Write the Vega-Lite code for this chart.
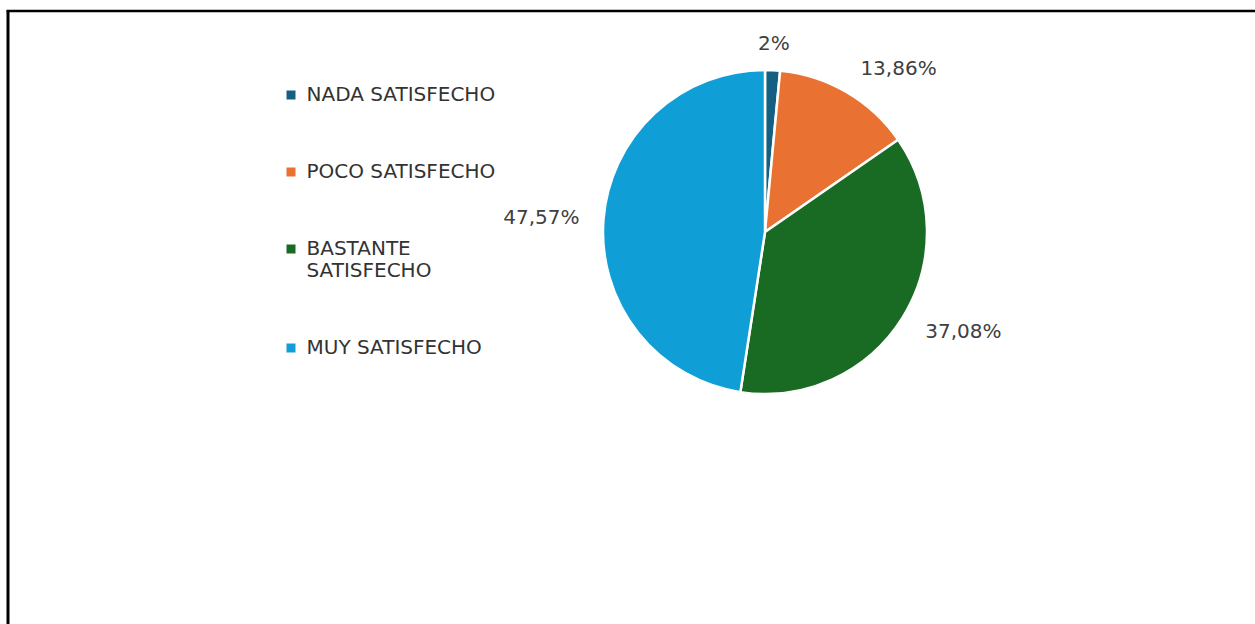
{
  "$schema": "https://vega.github.io/schema/vega-lite/v6.json",
  "autosize": "none",
  "width": 324,
  "height": 324,
  "padding": {"left": 603, "top": 70, "right": 328, "bottom": 230},
  "background": "white",
  "data": {
    "values": [
      {"n": 1, "cat": "NADA SATISFECHO", "pct": 1.49, "label": "2%"},
      {"n": 2, "cat": "POCO SATISFECHO", "pct": 13.86, "label": "13,86%"},
      {"n": 3, "cat": "BASTANTE SATISFECHO", "pct": 37.08, "label": "37,08%"},
      {"n": 4, "cat": "MUY SATISFECHO", "pct": 47.57, "label": "47,57%"}
    ]
  },
  "encoding": {
    "theta": {"field": "pct", "type": "quantitative", "stack": true},
    "order": {"field": "n", "type": "quantitative", "sort": "ascending"}
  },
  "layer": [
    {
      "mark": {"type": "point", "opacity": 0},
      "encoding": {
        "theta": null,
        "order": null,
        "x": {
          "datum": 0,
          "type": "quantitative",
          "scale": {"domain": [0, 1], "range": [-597, 652], "nice": false, "zero": false},
          "axis": {"orient": "top", "offset": 59.5, "labels": false, "ticks": false, "grid": false, "title": null, "domain": true, "domainColor": "#000000", "domainWidth": 2.5}
        },
        "y": {
          "datum": 0,
          "type": "quantitative",
          "scale": {"domain": [0, 1], "range": [554, -60], "nice": false, "zero": false},
          "axis": {"orient": "left", "offset": 595.5, "labels": false, "ticks": false, "grid": false, "title": null, "domain": true, "domainColor": "#000000", "domainWidth": 3}
        }
      }
    },
    {
      "mark": {"type": "arc", "stroke": "white", "strokeWidth": 2.5},
      "encoding": {
        "color": {
          "field": "cat",
          "type": "nominal",
          "scale": {
            "domain": ["NADA SATISFECHO", "POCO SATISFECHO", "BASTANTE SATISFECHO", "MUY SATISFECHO"],
            "range": ["#156082", "#E97132", "#196B24", "#0F9ED5"]
          },
          "legend": {
            "orient": "none",
            "legendX": -322,
            "legendY": 15,
            "title": null,
            "padding": 0,
            "symbolType": "square",
            "symbolSize": 81,
            "symbolStrokeWidth": 0,
            "labelFont": "DejaVu Sans",
            "labelFontSize": 20,
            "labelColor": "#333333",
            "labelOffset": 5.5,
            "labelLimit": 400,
            "rowPadding": 57,
            "labelExpr": "datum.label == 'BASTANTE SATISFECHO' ? ['BASTANTE', 'SATISFECHO'] : datum.label"
          }
        }
      }
    },
    {
      "mark": {"type": "text", "radius": 188, "align": "center", "baseline": "middle", "font": "DejaVu Sans", "fontSize": 20, "fill": "#404040"},
      "encoding": {
        "detail": {"field": "cat", "type": "nominal"},
        "text": {"condition": {"test": "datum.cat == 'NADA SATISFECHO'", "field": "label"}, "value": ""}
      }
    },
    {
      "mark": {"type": "text", "radius": 189, "align": "left", "baseline": "middle", "font": "DejaVu Sans", "fontSize": 20, "fill": "#404040"},
      "encoding": {
        "detail": {"field": "cat", "type": "nominal"},
        "text": {"condition": {"test": "datum.cat == 'POCO SATISFECHO' || datum.cat == 'BASTANTE SATISFECHO'", "field": "label"}, "value": ""}
      }
    },
    {
      "mark": {"type": "text", "radius": 186, "align": "right", "baseline": "middle", "font": "DejaVu Sans", "fontSize": 20, "fill": "#404040"},
      "encoding": {
        "detail": {"field": "cat", "type": "nominal"},
        "text": {"condition": {"test": "datum.cat == 'MUY SATISFECHO'", "field": "label"}, "value": ""}
      }
    }
  ],
  "config": {"view": {"stroke": null}}
}
